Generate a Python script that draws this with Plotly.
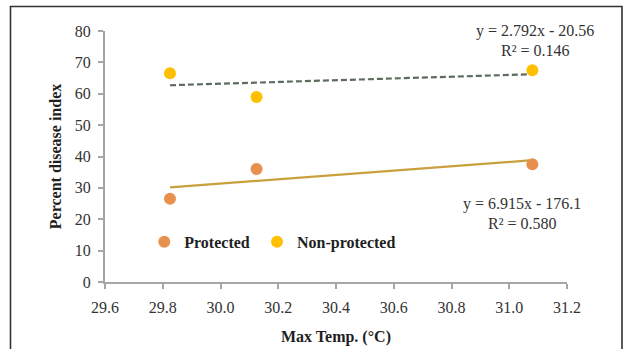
import plotly.graph_objects as go

# Data
max_temp = [29.825, 30.125, 31.08]
protected = [26.5, 36.0, 37.5]
non_protected = [66.5, 59.0, 67.5]

# Trendline coefficients (from chart labels)
prot_slope, prot_intercept = 6.915, -176.1
nonprot_slope, nonprot_intercept = 2.792, -20.56
prot_label = ["y = 6.915x - 176.1", "R² = 0.580"]
nonprot_label = ["y = 2.792x - 20.56", "R² = 0.146"]

x_ticks = [29.6, 29.8, 30.0, 30.2, 30.4, 30.6, 30.8, 31.0, 31.2]
y_ticks = [0, 10, 20, 30, 40, 50, 60, 70, 80]

c_prot = "#E8914F"
c_non = "#FFC000"
c_prot_line = "#C9A03E"
c_non_line = "#5E6B5E"
serif = "Liberation Serif"
axis_col = "#A6A6A6"
txt_col = "#333333"
title_col = "#1F1F1F"
FS = 16

xs = [min(max_temp), max(max_temp)]

fig = go.Figure()
fig.add_trace(go.Scatter(
    x=xs, y=[prot_slope * x + prot_intercept for x in xs], mode="lines",
    line=dict(color=c_prot_line, width=2.2), showlegend=False, hoverinfo="skip"))
fig.add_trace(go.Scatter(
    x=xs, y=[nonprot_slope * x + nonprot_intercept for x in xs], mode="lines",
    line=dict(color=c_non_line, width=2.2, dash="6px,3px"), showlegend=False, hoverinfo="skip"))
fig.add_trace(go.Scatter(
    x=max_temp, y=protected, mode="markers", name="Protected", legend="legend",
    marker=dict(color=c_prot, size=12)))
fig.add_trace(go.Scatter(
    x=max_temp, y=non_protected, mode="markers", name="Non-protected", legend="legend2",
    marker=dict(color=c_non, size=12)))

leg_common = dict(orientation="h", yanchor="middle", xanchor="left", bgcolor="rgba(0,0,0,0)",
                  font=dict(family=serif, size=FS, color=title_col, weight="bold"))

fig.update_layout(
    width=623, height=349,
    margin=dict(l=105, r=56, t=31, b=67, autoexpand=False),
    paper_bgcolor="white", plot_bgcolor="white",
    font=dict(family=serif, color=txt_col, size=FS),
    showlegend=True,
    legend=dict(x=0.085, y=0.16, **leg_common),
    legend2=dict(x=0.329, y=0.16, **leg_common),
    xaxis=dict(
        range=[29.6, 31.2], tickvals=x_ticks, ticktext=[f"{v:.1f}" for v in x_ticks],
        showgrid=False, zeroline=False, showline=True, linecolor=axis_col, linewidth=2,
        ticks="outside", ticklen=5, tickcolor=axis_col, tickwidth=2, ticklabelstandoff=5,
        tickfont=dict(family=serif, size=FS, color=txt_col), automargin=False,
        title=dict(text="<b>Max Temp. (°C)</b>", font=dict(family=serif, size=FS, color=title_col), standoff=16),
    ),
    yaxis=dict(
        range=[0, 80], tickvals=y_ticks,
        showgrid=False, zeroline=False, showline=True, linecolor=axis_col, linewidth=2,
        ticks="outside", ticklen=5, tickcolor=axis_col, tickwidth=2, ticklabelstandoff=4,
        tickfont=dict(family=serif, size=FS, color=txt_col), automargin=False,
        title=dict(text="<b>Percent disease index</b>", font=dict(family=serif, size=FS, color=title_col), standoff=9),
    ),
)

# trendline labels
ann_font = dict(family=serif, size=FS, color=txt_col)
fig.add_annotation(x=1.0, y=1.0, xref="paper", yref="paper", xanchor="center", yanchor="middle",
                   xshift=-32, yshift=0, text=nonprot_label[0], showarrow=False, font=ann_font)
fig.add_annotation(x=1.0, y=1.0, xref="paper", yref="paper", xanchor="center", yanchor="middle",
                   xshift=-32, yshift=-19, text=nonprot_label[1], showarrow=False, font=ann_font)
fig.add_annotation(x=1.0, y=0.31, xref="paper", yref="paper", xanchor="center", yanchor="middle",
                   xshift=-45, text=prot_label[0], showarrow=False, font=ann_font)
fig.add_annotation(x=1.0, y=0.31, xref="paper", yref="paper", xanchor="center", yanchor="middle",
                   xshift=-45, yshift=-19, text=prot_label[1], showarrow=False, font=ann_font)

# outer frame
fig.add_shape(type="rect", xref="paper", yref="paper",
              x0=(10.5 - 105) / 462, x1=(622 - 105) / 462,
              y0=(282 - 360) / 251, y1=(282 - 6.5) / 251,
              line=dict(color="#333333", width=1.6), layer="below")

fig.write_html("out.html", config={"displayModeBar": False},
               post_script="document.body.style.margin='0';document.body.style.overflow='hidden';")
